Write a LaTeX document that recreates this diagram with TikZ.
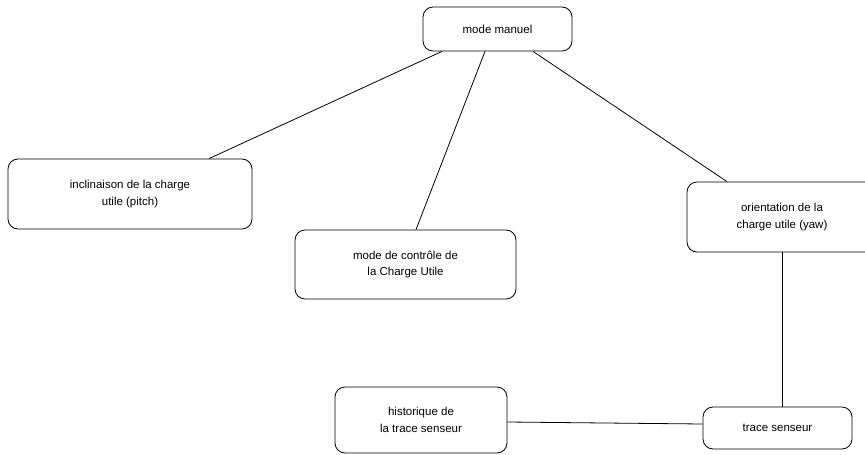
\documentclass[tikz,border=0pt]{standalone}
\usepackage{fontspec}
\setmainfont{Liberation Sans}
\begin{document}
\begin{tikzpicture}[x=1pt,y=-1pt,
  box/.style={draw=black, line width=0.8pt, rounded corners=10pt, align=center,
    inner sep=0pt, font=\fontsize{11.5}{16.5}\selectfont},
  link/.style={draw=black, line width=0.8pt}]
\useasboundingbox (0,0) rectangle (865,455);
\node[box, minimum width=149pt, minimum height=44pt] (mm) at (497.5,29) {mode manuel};
\node[box, minimum width=244pt, minimum height=70pt] (pitch) at (130,194) {inclinaison de la charge\\utile (pitch)};
\node[box, minimum width=221pt, minimum height=69pt] (ctrl) at (405.5,264.5) {mode de contrôle de\\la Charge Utile};
\node[box, minimum width=190pt, minimum height=70pt] (yaw) at (782,217) {orientation de la\\charge utile (yaw)};
\node[box, minimum width=149pt, minimum height=42pt] (trace) at (777.5,428) {trace senseur};
\node[box, minimum width=172pt, minimum height=66pt] (hist) at (421,420) {historique de\\la trace senseur};
\draw[link] ([xshift=-55.5pt]mm.south) -- ([xshift=79pt]pitch.north);
\draw[link] ([xshift=-12.5pt]mm.south) -- ([xshift=10.5pt]ctrl.north);
\draw[link] ([xshift=35.5pt]mm.south) -- ([xshift=-55pt]yaw.north);
\draw[link] (yaw.south) -- ([xshift=4.5pt]trace.north);
\draw[link] ([yshift=-2pt]hist.east) -- ([yshift=4pt]trace.west);
\end{tikzpicture}
\end{document}
